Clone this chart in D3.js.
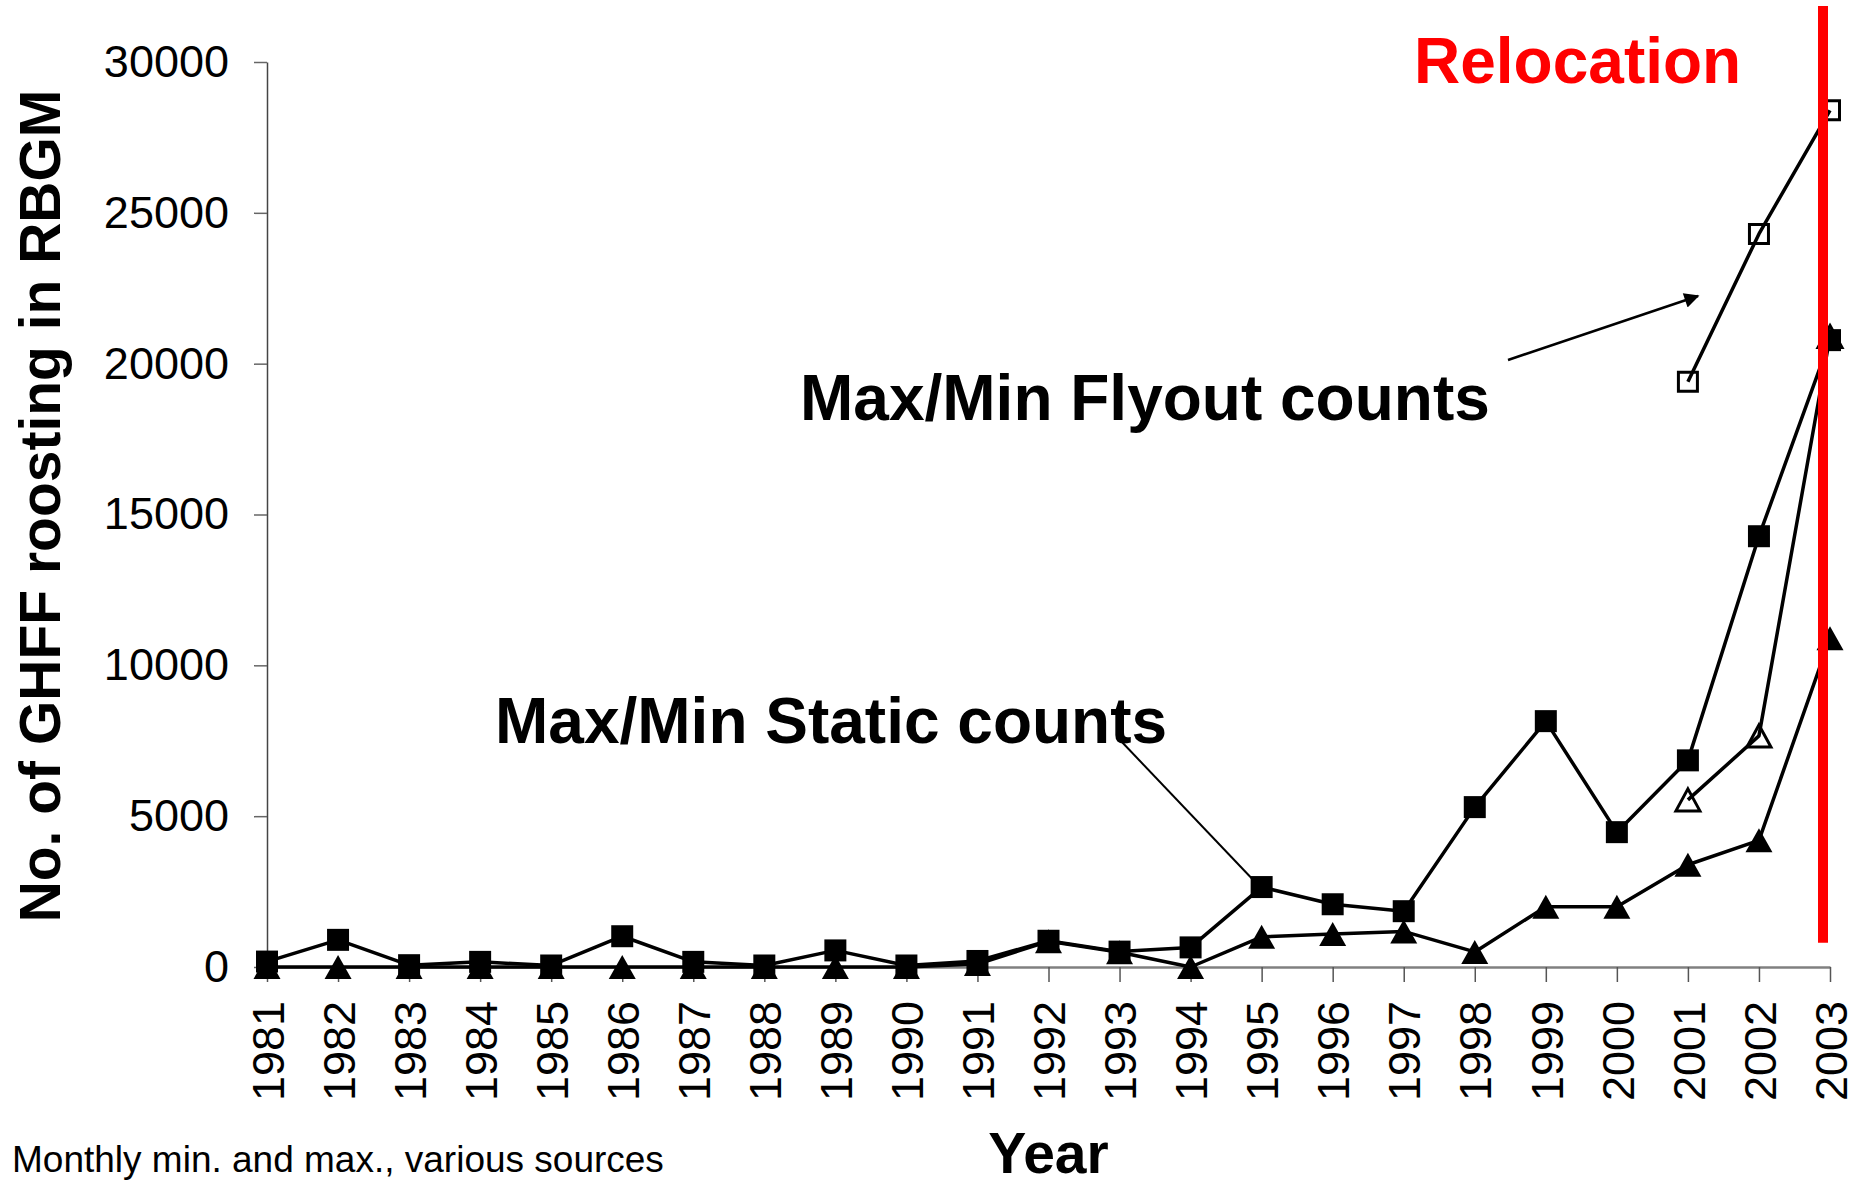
<!DOCTYPE html>
<html>
<head>
<meta charset="utf-8">
<script src="https://cdn.jsdelivr.net/npm/d3@7/dist/d3.min.js"></script>
<style>
  body { margin: 0; background: #fff; }
  svg { display: block; font-family: "Liberation Sans", Arial, sans-serif; }
</style>
</head>
<body>
<div id="chart"></div>
<script>
// years on the x axis
const years = [1981, 1982, 1983, 1984, 1985, 1986, 1987, 1988, 1989, 1990, 1991, 1992,
               1993, 1994, 1995, 1996, 1997, 1998, 1999, 2000, 2001, 2002, 2003];

// static counts (monthly max / min)
const staticMax = [180, 900, 60, 170, 50, 1020, 170, 50, 550, 50, 200, 870,
                   510, 650, 2650, 2080, 1850, 5300, 8150, 4470, 6850, 14280, 20780];
const staticMin = [0, 0, 0, 0, 0, 0, 0, 0, 0, 0, 100, 850,
                   490, 0, 1000, 1090, 1180, 500, 2000, 2000, 3390, 4200, 10900];

// flyout counts, only the last three years
const flyoutYears = [2001, 2002, 2003];
const flyoutMax = [19400, 24300, 28400];
const flyoutMin = [5540, 7660, 20900];

const yTicks = [0, 5000, 10000, 15000, 20000, 25000, 30000];

const W = 1857, H = 1185;

const svg = d3.select('#chart').append('svg')
  .attr('width', W)
  .attr('height', H)
  .attr('viewBox', `0 0 ${W} ${H}`);

const x = d3.scalePoint()
  .domain(years)
  .range([267, 1830]);

const y = d3.scaleLinear()
  .domain([0, 30000])
  .range([967, 62]);

// y axis
const yAxis = svg.append('g')
  .attr('transform', `translate(${x(1981)}, 0)`)
  .call(d3.axisLeft(y).tickValues(yTicks).tickSize(13).tickSizeOuter(0).tickPadding(25).tickFormat(d3.format('d')));
yAxis.select('.domain').attr('stroke', '#444').attr('stroke-width', 1.5);
yAxis.selectAll('.tick line').attr('stroke', '#666').attr('stroke-width', 1.5);
yAxis.selectAll('text')
  .attr('font-size', 45)
  .attr('fill', '#000')
  .attr('font-family', '"Liberation Sans", Arial, sans-serif');

// x axis
const xAxis = svg.append('g')
  .attr('transform', `translate(0, ${y(0)})`)
  .call(d3.axisBottom(x).tickSize(15).tickSizeOuter(0).tickFormat(d => String(d)));
xAxis.select('.domain').attr('stroke', '#808080').attr('stroke-width', 2.5);
xAxis.selectAll('.tick line').attr('stroke', '#555').attr('stroke-width', 1.5);
xAxis.selectAll('text')
  .attr('font-size', 45)
  .attr('fill', '#000')
  .attr('font-family', '"Liberation Sans", Arial, sans-serif')
  .attr('transform', 'rotate(-90)')
  .attr('text-anchor', 'end')
  .attr('x', -34)
  .attr('y', 0)
  .attr('dy', '0.36em');

const line = d3.line()
  .x(d => x(d.year))
  .y(d => y(d.value));

const series = [
  { years: years, values: staticMax, marker: 'square', filled: true },
  { years: years, values: staticMin, marker: 'triangle', filled: true },
  { years: flyoutYears, values: flyoutMax, marker: 'square', filled: false },
  { years: flyoutYears, values: flyoutMin, marker: 'triangle', filled: false }
];

series.forEach(s => {
  s.points = s.years.map((yr, i) => ({ year: yr, value: s.values[i] }));
});

// arrow head
svg.append('defs').append('marker')
  .attr('id', 'arrow')
  .attr('viewBox', '0 0 10 10')
  .attr('refX', 9)
  .attr('refY', 5)
  .attr('markerWidth', 7)
  .attr('markerHeight', 6)
  .attr('markerUnits', 'strokeWidth')
  .attr('orient', 'auto')
  .append('path')
  .attr('d', 'M0,0L10,5L0,10Z')
  .attr('fill', '#000');

// lines
svg.append('g').selectAll('path')
  .data(series)
  .enter()
  .append('path')
  .attr('d', s => line(s.points))
  .attr('fill', 'none')
  .attr('stroke', '#000')
  .attr('stroke-width', 3.5)
  .attr('stroke-linejoin', 'round');

// pointer from the static label to the 1995 max point (head hides under the square)
svg.append('line')
  .attr('x1', 1120)
  .attr('y1', 740)
  .attr('x2', x(1995) + 4)
  .attr('y2', y(staticMax[years.indexOf(1995)]) + 6)
  .attr('stroke', '#000')
  .attr('stroke-width', 2)
  .attr('marker-end', 'url(#arrow)');

// markers
function markerPath(s) {
  if (s.marker === 'square') {
    const h = s.filled ? 11 : 9.5;
    return `M${-h},${-h}H${h}V${h}H${-h}Z`;
  }
  if (s.filled) return 'M0,-12L13.5,12L-13.5,12Z';
  return 'M0,-11L12,11L-12,11Z';
}

series.forEach(s => {
  svg.append('g').selectAll('path')
    .data(s.points)
    .enter()
    .append('path')
    .attr('transform', d => `translate(${x(d.year)}, ${y(d.value)})`)
    .attr('d', markerPath(s))
    .attr('fill', s.filled ? '#000' : 'none')
    .attr('stroke', '#000')
    .attr('stroke-width', s.filled ? 0 : 3);
});

// flyout arrow
svg.append('line')
  .attr('x1', 1508)
  .attr('y1', 360)
  .attr('x2', 1698)
  .attr('y2', 296)
  .attr('stroke', '#000')
  .attr('stroke-width', 2.5)
  .attr('marker-end', 'url(#arrow)');

// annotations
svg.append('text')
  .attr('x', 800)
  .attr('y', 420)
  .attr('font-size', 64)
  .attr('font-weight', 'bold')
  .text('Max/Min Flyout counts');

svg.append('text')
  .attr('x', 495)
  .attr('y', 743)
  .attr('font-size', 64)
  .attr('font-weight', 'bold')
  .text('Max/Min Static counts');

svg.append('text')
  .attr('x', 1414)
  .attr('y', 83)
  .attr('font-size', 64)
  .attr('font-weight', 'bold')
  .attr('fill', '#ff0000')
  .text('Relocation');

// relocation marker line
svg.append('line')
  .attr('x1', x(2003) - 7)
  .attr('x2', x(2003) - 7)
  .attr('y1', 6)
  .attr('y2', y(800))
  .attr('stroke', '#ff0000')
  .attr('stroke-width', 10);

// axis titles
svg.append('text')
  .attr('transform', 'translate(60, 506) rotate(-90)')
  .attr('text-anchor', 'middle')
  .attr('font-size', 57)
  .attr('font-weight', 'bold')
  .text('No. of GHFF roosting in RBGM');

svg.append('text')
  .attr('x', (x(1981) + x(2003)) / 2)
  .attr('y', 1173)
  .attr('text-anchor', 'middle')
  .attr('font-size', 57)
  .attr('font-weight', 'bold')
  .text('Year');

svg.append('text')
  .attr('x', 12)
  .attr('y', 1172)
  .attr('font-size', 37)
  .text('Monthly min. and max., various sources');
</script>
</body>
</html>
